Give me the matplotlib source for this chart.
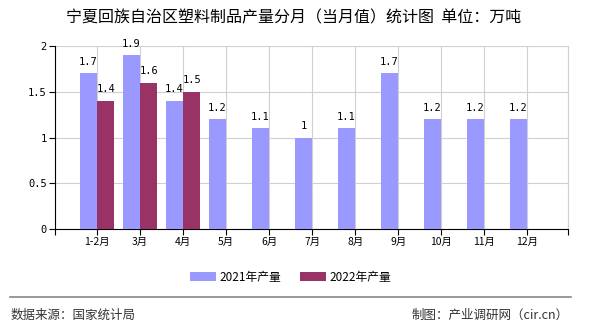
import matplotlib
matplotlib.use("Agg")
import matplotlib.pyplot as plt
import numpy as np

plt.rcParams['font.family'] = ['Noto Sans CJK SC', 'DejaVu Sans']

categories = ["1-2月", "3月", "4月", "5月", "6月", "7月", "8月", "9月", "10月", "11月", "12月"]
values_2021 = [1.7, 1.9, 1.4, 1.2, 1.1, 1.0, 1.1, 1.7, 1.2, 1.2, 1.2]
values_2022 = [1.4, 1.6, 1.5]
series_names = ["2021年产量", "2022年产量"]
title = "宁夏回族自治区塑料制品产量分月（当月值）统计图  单位：万吨"

c1 = "#9999FF"
c2 = "#993366"

fig = plt.figure(figsize=(5.9, 3.3), dpi=100)
ax = fig.add_axes([55/590, 1-229/330, (568-55)/590, (229-46)/330])

x = np.arange(len(categories))
w = 0.4
b1 = ax.bar(x - w/2, values_2021, width=w, color=c1, label=series_names[0], zorder=3)
x2 = np.arange(len(values_2022))
b2 = ax.bar(x2 + w/2, values_2022, width=w, color=c2, label=series_names[1], zorder=3)

def fmt(v):
    return ("%g" % v)

for xi, v in zip(x - w/2, values_2021):
    ax.text(xi, v + 0.07, fmt(v), ha="center", va="bottom", fontsize=7.5,
            family="DejaVu Sans Mono")
for xi, v in zip(x2 + w/2, values_2022):
    ax.text(xi, v + 0.07, fmt(v), ha="center", va="bottom", fontsize=7.5,
            family="DejaVu Sans Mono")

ax.set_xlim(-0.98, 10.95)
ax.set_ylim(0, 2)
ax.set_yticks([0, 0.5, 1, 1.5, 2])
ax.set_yticklabels(["0", "0.5", "1", "1.5", "2"], fontsize=7.5, family="DejaVu Sans Mono")
ax.set_xticks(list(x) + [-0.98, 10.95])
ax.set_xticklabels(categories + ["", ""], fontsize=7.5)
ax.grid(True, color="#d0d0d0", linewidth=0.8, zorder=0)
ax.tick_params(axis="both", length=4, width=0.8, colors="black", pad=2)
ax.spines["top"].set_visible(False)
ax.spines["right"].set_color("#d0d0d0")
ax.spines["left"].set_color("black")
ax.spines["bottom"].set_color("black")

fig.text(294/590, 1-18/330, title, ha="center", va="center", fontsize=11.5, fontweight="medium")

fig.legend(handles=[b1, b2], labels=series_names, loc="center",
           bbox_to_anchor=(291/590, 1-277/330), ncol=2, frameon=False, fontsize=8.5,
           handlelength=2.2, handleheight=0.8, columnspacing=1.6, handletextpad=0.3)

fig.add_artist(plt.Line2D([10/590, 571/590], [1-297/330, 1-297/330], color="#888888", linewidth=1.2))
fig.text(11/590, 1-315/330, "数据来源：国家统计局", ha="left", va="center", fontsize=9, color="#333333")
fig.text(569/590, 1-315/330, "制图：产业调研网（cir.cn）", ha="right", va="center", fontsize=9, color="#333333")

fig.savefig("out.png", dpi=100)
